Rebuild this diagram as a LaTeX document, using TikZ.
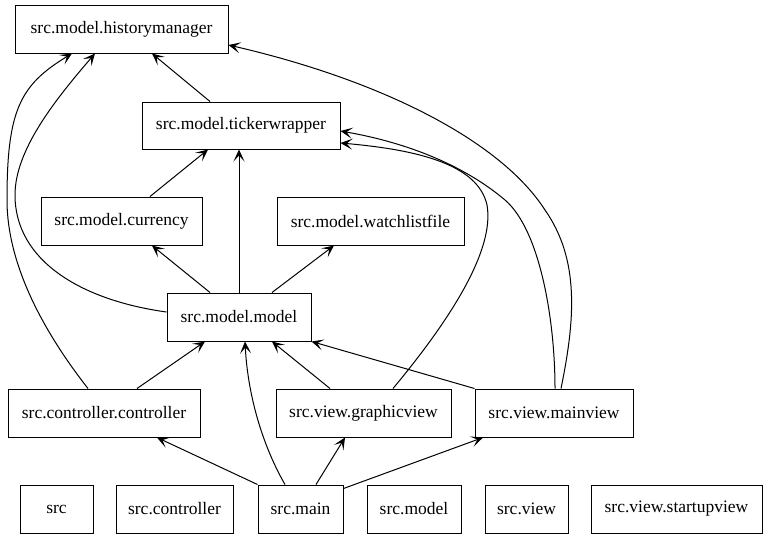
\documentclass[tikz,border=0pt]{standalone}
\usepackage{fontspec}
\setmainfont{Liberation Serif}
\usetikzlibrary{arrows.meta}
\begin{document}
\begin{tikzpicture}[x=1pt,y=-1pt,
  box/.style={draw,line width=1pt,rectangle,inner sep=0pt,minimum height=48pt,font=\fontsize{17.5}{20}\selectfont},
  dep/.style={line width=1pt,-{Stealth[length=12pt,width=11pt,inset=6pt]}}]
\useasboundingbox (0,0) rectangle (767,539);
\node[box,minimum width=213pt,minimum height=48pt] (hm) at (121.5,29) {src.model.historymanager};
\node[box,minimum width=198pt,minimum height=47pt] (tw) at (241,125.5) {src.model.tickerwrapper};
\node[box,minimum width=161pt] (cur) at (121.5,221) {src.model.currency};
\node[box,minimum width=187pt] (wl) at (370.5,221) {src.model.watchlistfile};
\node[box,minimum width=144pt] (mm) at (239,317) {src.model.model};
\node[box,minimum width=192pt] (ctl) at (104,413) {src.controller.controller};
\node[box,minimum width=175pt] (gv) at (363.5,413) {src.view.graphicview};
\node[box,minimum width=158pt] (mv) at (554,413) {src.view.mainview};
\node[box,minimum width=73pt] (src) at (56.5,509) {src};
\node[box,minimum width=117pt] (sc) at (174.5,509) {src.controller};
\node[box,minimum width=85pt] (main) at (300.5,509) {src.main};
\node[box,minimum width=94pt] (smod) at (414,509) {src.model};
\node[box,minimum width=83pt] (sview) at (526.5,509) {src.view};
\node[box,minimum width=171pt] (sup) at (676.5,509) {src.view.startupview};
% edges
\draw[dep] ([xshift=-31pt]tw.north) -- ([xshift=30.5pt]hm.south);
\draw[dep] ([xshift=28.5pt]cur.north) -- ([xshift=-33pt]tw.south);
\draw[dep] ([xshift=0pt]mm.north) -- ([xshift=-2pt]tw.south);
\draw[dep] ([xshift=-29pt]mm.north) -- ([xshift=30.5pt]cur.south);
\draw[dep] ([xshift=33pt]mm.north) -- ([xshift=-36.5pt]wl.south);
\draw[dep] ([yshift=5pt]mm.west) .. controls (80,300) and (15,260) .. (15,195) .. controls (15,150) and (55,100) .. ([xshift=-26.5pt]hm.south);
\draw[dep] ([xshift=-16pt]ctl.north) .. controls (50,340) and (7,270) .. (7,200) .. controls (7,110) and (20,85) .. ([xshift=-49.5pt]hm.south);
\draw[dep] ([xshift=33pt]ctl.north) -- ([xshift=-34pt]mm.south);
\draw[dep] ([xshift=-15.5pt]main.north) .. controls (265,450) and (248,400) .. ([xshift=6pt]mm.south);
\draw[dep] (main.north west) -- ([xshift=53pt]ctl.south);
\draw[dep] ([xshift=15.5pt]main.north) -- ([xshift=-18.5pt]gv.south);
\draw[dep] ([yshift=-4pt]main.north east) -- ([xshift=-71pt]mv.south);
\draw[dep] ([xshift=-33.5pt]gv.north) -- ([xshift=33pt]mm.south);
\draw[dep] (mv.north west) -- (mm.south east);
\draw[dep] ([xshift=29.5pt]gv.north) .. controls (450,320) and (495,250) .. (487,205) .. controls (478,165) and (420,150) .. ([yshift=-17.5pt]tw.east);
\draw[dep] ([xshift=1pt]mv.north) .. controls (555,320) and (540,230) .. (505,200) .. controls (472,172) and (420,145) .. ([yshift=-5.5pt]tw.east);
\draw[dep] ([xshift=7pt]mv.north) .. controls (575,320) and (580,260) .. (545,210) .. controls (500,140) and (380,80) .. ([yshift=-16pt]hm.east);
\end{tikzpicture}
\end{document}
